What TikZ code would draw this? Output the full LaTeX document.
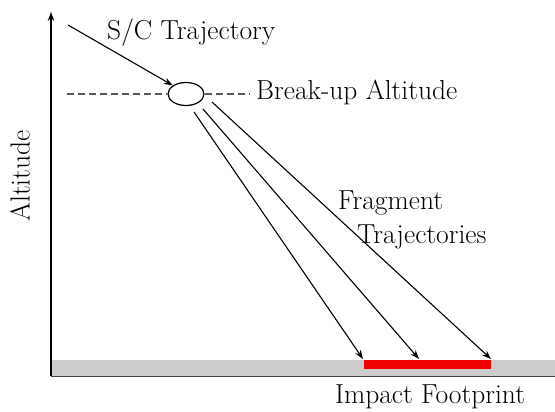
\documentclass[tikz,border=0pt]{standalone}
\usetikzlibrary{arrows.meta, positioning, shapes.geometric}
\definecolor{groundcolor}{RGB}{204,204,204}
\definecolor{footcolor}{RGB}{240,0,0}

\begin{document}
\begin{tikzpicture}[
    x=1pt, y=-1pt,
    txt/.style={font=\rmfamily\fontsize{27.5}{30}\selectfont, inner sep=0pt},
    arrow/.style={-{Stealth[length=9pt, width=6.5pt]}, line width=1.1pt},
    dashline/.style={dash pattern=on 7pt off 4pt, line width=1.1pt, gray!70!black}
]
    \useasboundingbox (0,0) rectangle (555,412);

    % Ground and footprint
    \node[draw=none, fill=groundcolor, minimum width=504pt, minimum height=16pt, inner sep=0pt, anchor=north west] (ground) at (51,360) {};
    \draw[line width=1.3pt, gray!50!black] (ground.south west) -- (ground.south east);
    \node[fill=footcolor, minimum width=127pt, minimum height=9pt, inner sep=0pt, anchor=north west] (foot) at (364,360) {};

    % Altitude axis
    \coordinate (axisbase) at (51,376);
    \coordinate (axistop) at (51,12);
    \draw[arrow, line width=1.3pt] (axisbase) -- (axistop);
    \node[txt, rotate=90] (alt) at (20,176) {Altitude};

    % Break-up point
    \node[draw, ellipse, minimum width=36pt, minimum height=23pt, line width=1.2pt] (breakup) at (186,94) {};
    \coordinate (dashleft) at (67,94);
    \coordinate (dashright) at (250,94);
    \draw[dashline] (dashleft) -- (breakup.west);
    \draw[dashline] (breakup.east) -- (dashright);
    \node[txt, anchor=west] (altlabel) at (256,92) {Break-up Altitude};

    % S/C trajectory
    \coordinate (scstart) at (68,25);
    \draw[arrow] (scstart) -- (breakup.north west);
    \node[txt, anchor=west] (sclabel) at (107,33) {S/C Trajectory};

    % Fragment trajectories
    \coordinate (frag1) at (194,112);
    \coordinate (frag2) at (203,109);
    \coordinate (frag3) at (212,102);
    \coordinate (hit1) at (363,359);
    \coordinate (hit2) at (419,359);
    \coordinate (hit3) at (491,359);
    \draw[arrow] (frag1) -- (hit1);
    \draw[arrow] (frag2) -- (hit2);
    \draw[arrow] (frag3) -- (hit3);
    \node[txt, anchor=west] (fraglabel) at (338,203) {Fragment};
    \node[txt, anchor=west] (fraglabel2) at (357,237) {Trajectories};

    % Footprint label
    \node[txt] (footlabel) at (430,397) {Impact Footprint};
\end{tikzpicture}
\end{document}
